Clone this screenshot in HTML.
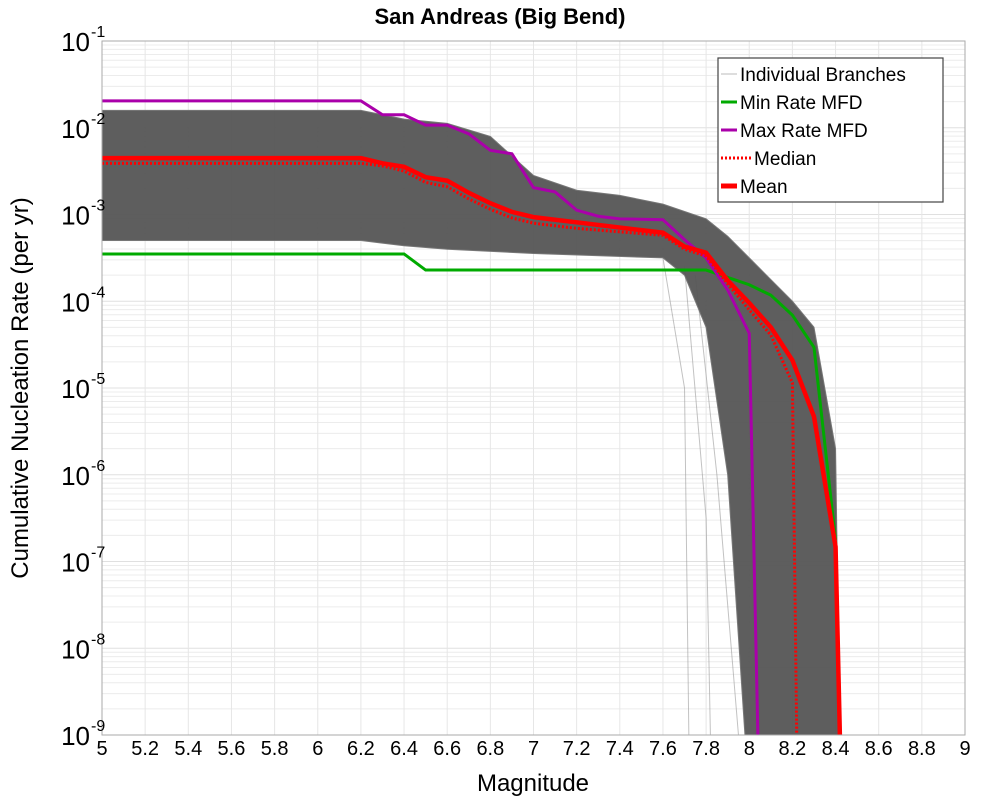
<!DOCTYPE html>
<html><head><meta charset="utf-8"><style>
body{margin:0;background:#fff;}
svg{display:block;font-family:"Liberation Sans","DejaVu Sans",sans-serif;}
</style></head><body>
<svg id="chart" width="1000" height="800">
<text x="500" y="24" text-anchor="middle" font-size="22" font-weight="bold">San Andreas (Big Bend)</text>
<g id="grid"></g>
<g id="band"></g>
<g id="series"></g>
<rect x="102" y="41" width="863" height="694" fill="none" stroke="#aaa" stroke-width="1"/>
<g id="axes"></g>
<text x="533" y="791" text-anchor="middle" font-size="24">Magnitude</text>
<text transform="translate(28,388) rotate(-90)" text-anchor="middle" font-size="24">Cumulative Nucleation Rate (per yr)</text>
<g>
<rect x="718" y="58" width="225" height="144" fill="#fff" stroke="#444" stroke-width="1.2"/>
<g><line x1="721" y1="74" x2="737" y2="74" stroke="#bbb" stroke-width="1"/><text x="740" y="81" font-size="19">Individual Branches</text></g>
<g><line x1="721" y1="102" x2="737" y2="102" stroke="#00aa00" stroke-width="3"/><text x="740" y="109" font-size="19">Min Rate MFD</text></g>
<g><line x1="721" y1="130" x2="737" y2="130" stroke="#aa00aa" stroke-width="3"/><text x="740" y="137" font-size="19">Max Rate MFD</text></g>
<g><line x1="721" y1="158" x2="751" y2="158" stroke="#ff0000" stroke-width="3" stroke-dasharray="2,2"/><text x="754" y="165" font-size="19">Median</text></g>
<g><line x1="721" y1="186" x2="737" y2="186" stroke="#ff0000" stroke-width="5"/><text x="740" y="193" font-size="19">Mean</text></g>
</g>
</svg>
<script>
const xTicks=[5,5.2,5.4,5.6,5.8,6,6.2,6.4,6.6,6.8,7,7.2,7.4,7.6,7.8,8,8.2,8.4,8.6,8.8,9];
const yExps=[-1,-2,-3,-4,-5,-6,-7,-8,-9];
// log10 rates
const minM=[5,6.4,6.5,7.8,8.0,8.1,8.2,8.3,8.4];
const minV=[-3.455,-3.455,-3.64,-3.64,-3.81,-3.93,-4.16,-4.53,-6.75];
const maxM=[5,6.2,6.3,6.4,6.5,6.6,6.7,6.8,6.9,7.0,7.1,7.2,7.3,7.4,7.6,7.7,7.8,7.9,8.0,8.04];
const maxV=[-1.69,-1.69,-1.85,-1.85,-1.97,-1.97,-2.07,-2.26,-2.30,-2.69,-2.74,-2.95,-3.02,-3.05,-3.06,-3.29,-3.50,-3.87,-4.37,-9.5];
const meanM=[5,6.2,6.3,6.4,6.5,6.6,6.7,6.8,6.9,7.0,7.1,7.2,7.6,7.7,7.8,7.9,8.0,8.1,8.2,8.3,8.4,8.42];
const meanV=[-2.35,-2.35,-2.41,-2.45,-2.57,-2.61,-2.75,-2.87,-2.97,-3.03,-3.06,-3.09,-3.21,-3.37,-3.44,-3.76,-4.02,-4.30,-4.68,-5.33,-6.83,-9.5];
const medM=[5,6.2,6.3,6.4,6.5,6.6,6.7,6.8,6.9,7.0,7.1,7.2,7.6,7.7,7.8,7.9,8.0,8.1,8.2,8.22];
const medV=[-2.41,-2.41,-2.44,-2.50,-2.63,-2.68,-2.82,-2.94,-3.04,-3.10,-3.13,-3.16,-3.24,-3.40,-3.48,-3.80,-4.10,-4.39,-4.94,-9.5];
const bandUpM=[5,6.2,6.4,6.6,6.8,7.0,7.2,7.4,7.6,7.8,7.9,8.0,8.1,8.2,8.3,8.4,8.42];
const bandUpV=[-1.80,-1.80,-1.90,-1.95,-2.10,-2.55,-2.72,-2.78,-2.88,-3.05,-3.25,-3.5,-3.75,-4.0,-4.3,-5.7,-9.5];
const bandLoM=[5,6.2,6.4,6.6,7.0,7.6,7.7,7.8,7.9,7.98];
const bandLoV=[-3.30,-3.30,-3.36,-3.40,-3.45,-3.50,-3.70,-4.3,-6.0,-9.5];
const strayM=[[7.6,7.7,7.72],[7.7,7.8,7.82],[7.75,7.85,7.95]];
const strayV=[[-3.5,-5.0,-9.5],[-3.6,-6.5,-9.5],[-3.7,-6.0,-9.5]];
const X0=102,X1=965,Y0=41,Y1=735;
const xs=m=>X0+(m-5)/4*(X1-X0);
const ys=l=>{l=Math.max(-9,Math.min(l,-1));return Y0+(-1-l)/8*(Y1-Y0);};
const NS='http://www.w3.org/2000/svg';
function mk(t,p,a){const e=document.createElementNS(NS,t);for(const k in a)e.setAttribute(k,a[k]);p.appendChild(e);return e;}
const grid=document.getElementById('grid'),axes=document.getElementById('axes');
for(let e=-9;e<-1;e++)for(let k=2;k<=9;k++){const y=ys(e+Math.log10(k));
const ln=mk('line',grid,{x1:X0,x2:X1,y1:y,y2:y,stroke:'#ececec','stroke-width':1});

}
yExps.forEach(e=>{const y=ys(e);
const ln=mk('line',grid,{x1:X0,x2:X1,y1:y,y2:y,stroke:'#e0e0e0','stroke-width':1});


const t=mk('text',axes,{x:90,y:y+10,'text-anchor':'end','font-size':26});


t.textContent='10';
const s=mk('text',axes,{x:91,y:y-4,'font-size':16});


s.textContent=String(e);});
xTicks.forEach(m=>{const x=xs(m);
const ln=mk('line',grid,{x1:x,x2:x,y1:Y0,y2:Y1,stroke:'#e6e6e6','stroke-width':1});


const t=mk('text',axes,{x:x,y:755,'text-anchor':'middle','font-size':20});


t.textContent=String(m);});
const band=document.getElementById('band');
strayM.forEach((M,j)=>{const p=M.map((m,i)=>xs(m)+','+ys(strayV[j][i])).join(' ');
const el=mk('polyline',band,{points:p,fill:'none',stroke:'#999','stroke-width':1,'stroke-opacity':0.6});

});
let pts=bandUpM.map((m,i)=>xs(m)+','+ys(bandUpV[i]));
for(let i=bandLoM.length-1;i>=0;i--)pts.push(xs(bandLoM[i])+','+ys(bandLoV[i]));
const poly=mk('polygon',band,{points:pts.join(' '),fill:'#555',stroke:'#777','stroke-width':1,'fill-opacity':0.95});


const ser=document.getElementById('series');
function line(M,V,col,w,dash,name){const p=M.map((m,i)=>xs(m)+','+ys(V[i])).join(' ');
const a={points:p,fill:'none',stroke:col,'stroke-width':w,'stroke-linejoin':'miter'};if(dash)a['stroke-dasharray']=dash;
const el=mk('polyline',ser,a);

}
line(minM,minV,'#00aa00',3,null,'min-rate-line');
line(maxM,maxV,'#aa00aa',3,null,'max-rate-line');
line(medM,medV,'#ff0000',3,'2,2','median-line');
line(meanM,meanV,'#ff0000',4.5,null,'mean-line');
</script>
</body></html>
